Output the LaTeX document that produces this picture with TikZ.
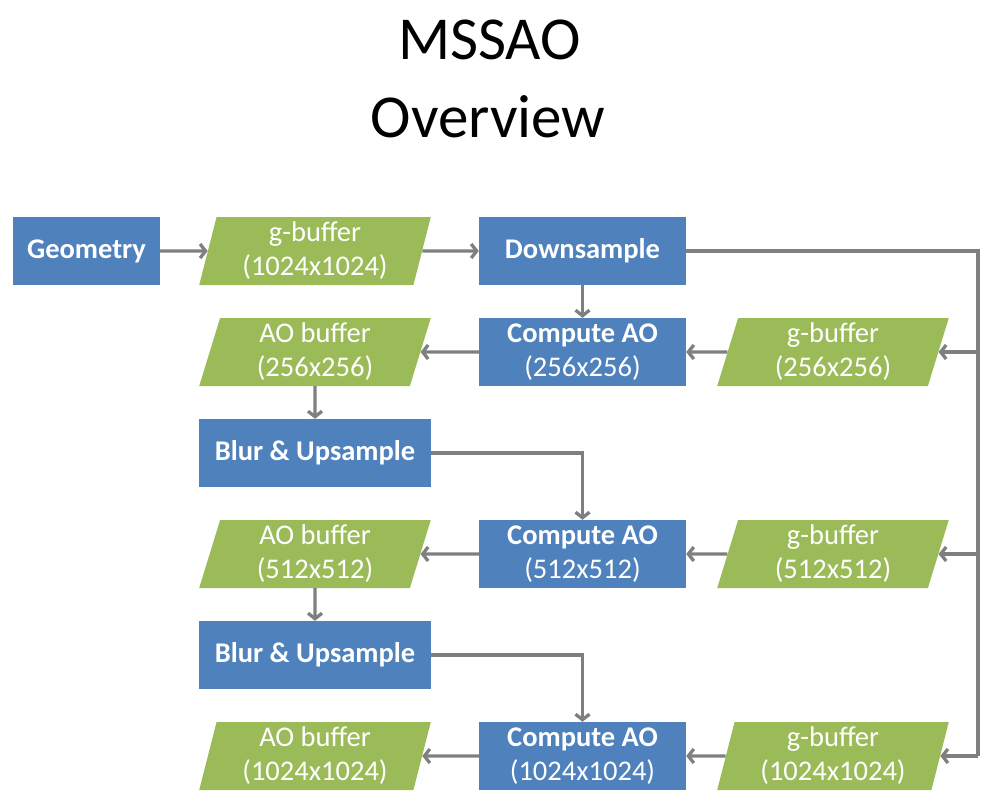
\documentclass[tikz,border=0pt]{standalone}
\usepackage{fontspec}
\setmainfont{Carlito}
\usetikzlibrary{shapes.geometric,arrows.meta}
\definecolor{boxblue}{HTML}{4F81BD}
\definecolor{bufgreen}{HTML}{9BBB59}
\definecolor{linegray}{HTML}{7F7F7F}
\tikzset{
	stage/.style={fill=boxblue, text=white, font=\fontsize{28.5}{34}\selectfont\bfseries, align=center, inner sep=0pt, minimum height=68pt},
	buffer/.style={trapezium, trapezium left angle=77.5, trapezium right angle=102.5, trapezium stretches=true, fill=bufgreen, text=white, font=\fontsize{28.5}{34}\selectfont, align=center, inner sep=0pt, minimum width=232pt, minimum height=68pt},
	link/.style={draw=linegray, line width=3.3pt},
	arr/.style={link, -{Straight Barb[length=5.5pt,width=14pt]}}
}
\begin{document}
\begin{tikzpicture}[x=1pt,y=1pt]
					\useasboundingbox (0,0) rectangle (989,-808);
					%Nodes
					\node[font=\fontsize{61}{74}\selectfont, anchor=base] (title) at (489.5,-60) {MSSAO};
					\node[font=\fontsize{61}{74}\selectfont, anchor=base] (subtitle) at (488,-137) {Overview};

					\node[stage, minimum width=147pt] (geom) at (86.5,-251) {Geometry};
					\node[buffer] (gbuf) at (315,-251) {g-buffer\\(1024x1024)};
					\node[stage, minimum width=207pt] (down) at (582.5,-251) {Downsample};

					\node[buffer] (aobufA) at (315,-352) {AO buffer\\(256x256)};
					\node[stage, minimum width=207pt, font=\fontsize{28.5}{34}\selectfont] (aoA) at (582.5,-352) {\textbf{Compute AO}\\(256x256)};
					\node[buffer] (gbufA) at (833,-352) {g-buffer\\(256x256)};

					\node[stage, minimum width=232pt] (blurA) at (315,-453) {Blur \& Upsample};

					\node[buffer] (aobufB) at (315,-554) {AO buffer\\(512x512)};
					\node[stage, minimum width=207pt, font=\fontsize{28.5}{34}\selectfont] (aoB) at (582.5,-554) {\textbf{Compute AO}\\(512x512)};
					\node[buffer] (gbufB) at (833,-554) {g-buffer\\(512x512)};

					\node[stage, minimum width=232pt] (blurB) at (315,-655) {Blur \& Upsample};

					\node[buffer] (aobufC) at (315,-756) {AO buffer\\(1024x1024)};
					\node[stage, minimum width=207pt, font=\fontsize{28.5}{34}\selectfont] (aoC) at (582.5,-756) {\textbf{Compute AO}\\(1024x1024)};
					\node[buffer] (gbufC) at (833,-756) {g-buffer\\(1024x1024)};

					\coordinate (bus) at (978,-756);

					%Lines
					\draw[arr] (geom) -- (gbuf);
					\draw[arr] (gbuf) -- (down);
					\draw[arr] (down) -- (aoA);
					\draw[link] (down.east) -| (bus);
					\foreach \g/\a/\b in {gbufA/aoA/aobufA, gbufB/aoB/aobufB, gbufC/aoC/aobufC}{
						\draw[arr] (\g.east -| bus) -- (\g.east);
						\draw[arr] (\g) -- (\a);
						\draw[arr] (\a) -- (\b);
					}
					\draw[arr] (aobufA) -- (blurA);
					\draw[arr] (blurA.east) -| (aoB.north);
					\draw[arr] (aobufB) -- (blurB);
					\draw[arr] (blurB.east) -| (aoC.north);

				\end{tikzpicture}
\end{document}
